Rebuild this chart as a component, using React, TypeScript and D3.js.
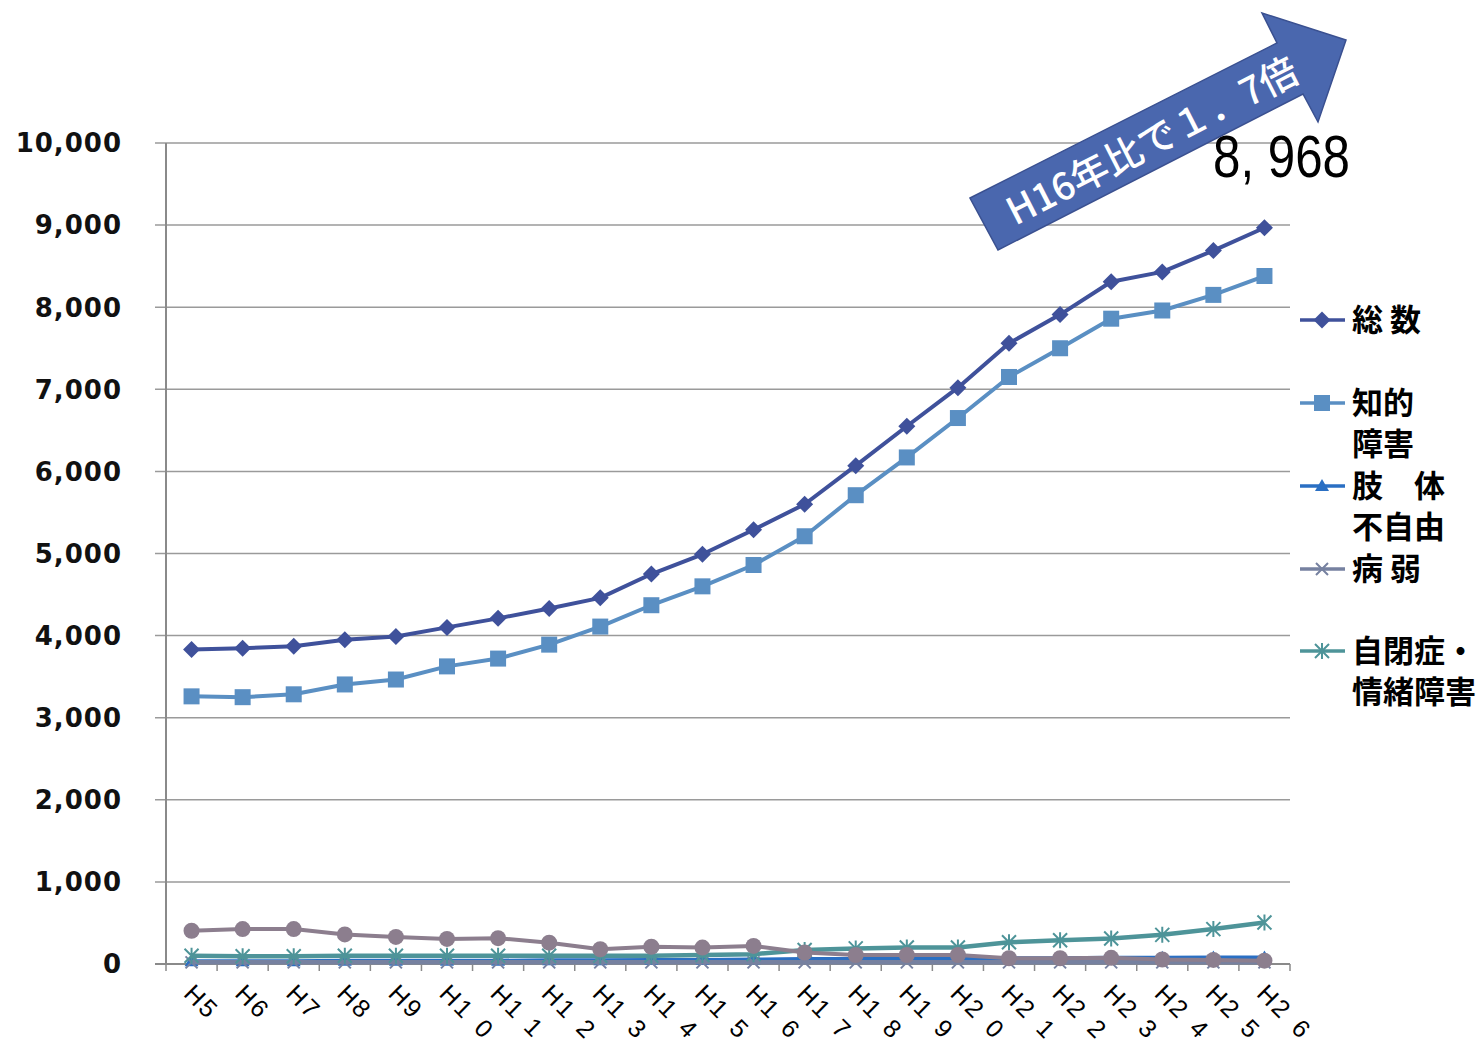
import React from "react";
import * as d3 from "d3";

const categories = ["H5","H6","H7","H8","H9","H10","H11","H12","H13","H14","H15","H16","H17","H18","H19","H20","H21","H22","H23","H24","H25","H26"];
const total = [3830,3845,3870,3950,3990,4100,4210,4330,4460,4750,4990,5290,5600,6070,6550,7020,7560,7910,8310,8430,8690,8968];
const intellectual = [3260,3250,3285,3405,3465,3625,3720,3890,4110,4370,4600,4860,5210,5710,6170,6650,7150,7500,7860,7960,8150,8380];
const physical = [35,35,35,40,40,40,40,45,45,50,50,55,60,60,65,65,70,70,75,75,80,80];
const sickness = [20,20,20,20,20,20,20,20,20,20,20,20,20,20,20,20,20,20,20,20,20,20];
const autism = [100,95,95,100,100,100,100,100,100,100,110,120,170,190,200,200,265,290,310,355,425,505];
const otherCircle = [405,425,425,360,330,305,315,260,180,210,200,220,140,110,110,110,70,70,75,55,50,40];
const yTicks = [0,1000,2000,3000,4000,5000,6000,7000,8000,9000,10000];

const C_TOTAL = "#3F519B";
const C_INT = "#5A8FC3";
const C_PHYS = "#2A6FC3";
const C_SICK = "#7681A0";
const C_AUT = "#4E9499";
const C_OTHER = "#8C7E8E";

type MarkerKind = "diamond" | "square" | "triangle" | "x" | "star" | "circle";

function Marker({ kind, x, y, color }: { kind: MarkerKind; x: number; y: number; color: string }) {
  switch (kind) {
    case "diamond":
      return <path d={`M${x},${y - 8.5}L${x + 8.5},${y}L${x},${y + 8.5}L${x - 8.5},${y}Z`} fill={color} />;
    case "square":
      return <rect x={x - 8} y={y - 8} width={16} height={16} fill={color} />;
    case "triangle":
      return <path d={`M${x},${y - 7}L${x + 7},${y + 5}L${x - 7},${y + 5}Z`} fill={color} />;
    case "x":
      return <path d={`M${x - 6},${y - 6}L${x + 6},${y + 6}M${x - 6},${y + 6}L${x + 6},${y - 6}`} stroke={color} strokeWidth={2} />;
    case "star":
      return <path d={`M${x - 7},${y - 7}L${x + 7},${y + 7}M${x - 7},${y + 7}L${x + 7},${y - 7}M${x},${y - 8}L${x},${y + 8}`} stroke={color} strokeWidth={2} />;
    case "circle":
      return <circle cx={x} cy={y} r={8} fill={color} />;
  }
  return null;
}

const series: { values: number[]; color: string; marker: MarkerKind; width: number }[] = [
  { values: total, color: C_TOTAL, marker: "diamond", width: 4 },
  { values: intellectual, color: C_INT, marker: "square", width: 4 },
  { values: physical, color: C_PHYS, marker: "triangle", width: 4 },
  { values: sickness, color: C_SICK, marker: "x", width: 4.5 },
  { values: autism, color: C_AUT, marker: "star", width: 4.5 },
  { values: otherCircle, color: C_OTHER, marker: "circle", width: 4 },
];

const legend: { lines: string[]; color: string; marker: MarkerKind; y: number }[] = [
  { lines: ["総 数"], color: C_TOTAL, marker: "diamond", y: 320 },
  { lines: ["知的", "障害"], color: C_INT, marker: "square", y: 403 },
  { lines: ["肢\u3000体", "不自由"], color: C_PHYS, marker: "triangle", y: 486 },
  { lines: ["病 弱"], color: C_SICK, marker: "x", y: 569 },
  { lines: ["自閉症・", "情緒障害"], color: C_AUT, marker: "star", y: 651 },
];

export default function App() {
  const W = 1483, H = 1045;
  const left = 166, right = 1290, top = 143, bottom = 964;
  const x = d3.scaleBand<string>().domain(categories).range([left, right]);
  const bw = x.bandwidth();
  const cx = (i: number) => (x(categories[i]) as number) + bw / 2;
  const y = d3.scaleLinear().domain([0, 10000]).range([bottom, top]);
  const line = d3.line<number>().x((_, i) => cx(i)).y((d) => y(d));
  const fmt = d3.format(",");

  const arrowPts = [[970,198],[1277,43],[1262,13],[1346,40],[1318,122],[1303,94],[998,250]];

  return (
    <svg width={W} height={H} style={{ display: "block", position: "absolute", left: 0, top: 0 }}>
      <rect x={0} y={0} width={W} height={H} fill="#fff" />
      {yTicks.filter((t) => t > 0).map((t) => (
        <line key={t} x1={left - 11} x2={right} y1={y(t)} y2={y(t)} stroke="#9a9a9a" strokeWidth={1.5} />
      ))}
      <line x1={left} x2={left} y1={top} y2={bottom} stroke="#8a8a8a" strokeWidth={2} />
      <line x1={left - 11} x2={right} y1={bottom} y2={bottom} stroke="#8a8a8a" strokeWidth={2} />
      {d3.range(categories.length + 1).map((i) => (
        <line key={i} x1={left + i * bw} x2={left + i * bw} y1={bottom} y2={bottom + 7} stroke="#8a8a8a" strokeWidth={1.5} />
      ))}
      {yTicks.map((t) => (
        <text key={t} x={122} y={y(t)} dy="0.36em" textAnchor="end" fontFamily="DejaVu Sans" fontWeight="bold" fontSize={26} letterSpacing={1} fill="#111">
          {fmt(t)}
        </text>
      ))}
      {categories.map((c, i) => {
        const ax = cx(i) - 9, ay = 995;
        const first = c.slice(0, 2), rest = c.slice(2);
        return (
          <text key={c} transform={`translate(${ax},${ay}) rotate(45)`} fontFamily="Liberation Sans, Arial" fontSize={25} fill="#000" letterSpacing={2.5}>
            <tspan>{first}</tspan>
            {rest && <tspan dx={12}>{rest}</tspan>}
          </text>
        );
      })}
      {series.map((s, si) => (
        <g key={si}>
          <path d={line(s.values) as string} fill="none" stroke={s.color} strokeWidth={s.width} strokeLinejoin="round" />
          {s.values.map((v, i) => (
            <Marker key={i} kind={s.marker} x={cx(i)} y={y(v)} color={s.color} />
          ))}
        </g>
      ))}
      {legend.map((l, li) => (
        <g key={li}>
          <line x1={1300} x2={1345} y1={l.y} y2={l.y} stroke={l.color} strokeWidth={3.5} />
          <Marker kind={l.marker} x={1322} y={l.y} color={l.color} />
          {l.lines.map((t, ti) => (
            <text key={ti} x={1352} y={l.y + ti * 41} dy="0.36em" fontFamily="Noto Sans CJK JP" fontWeight="bold" fontSize={31} fill="#000">
              {t}
            </text>
          ))}
        </g>
      ))}
      <text x={1213} y={177} fontFamily="Liberation Sans, Arial" fontSize={60} fill="#000" textLength={137} lengthAdjust="spacingAndGlyphs">
        8, 968
      </text>
      <polygon points={arrowPts.map((p) => p.join(",")).join(" ")} fill="#4A67AE" stroke="#3A5090" strokeWidth={1.5} />
      <text transform="translate(1152,141) rotate(-27)" dy="0.36em" textAnchor="middle" fontFamily="Noto Sans CJK JP" fontWeight="500" fontSize={38} fill="#fff">
        H16年比で１．7倍
      </text>
    </svg>
  );
}
